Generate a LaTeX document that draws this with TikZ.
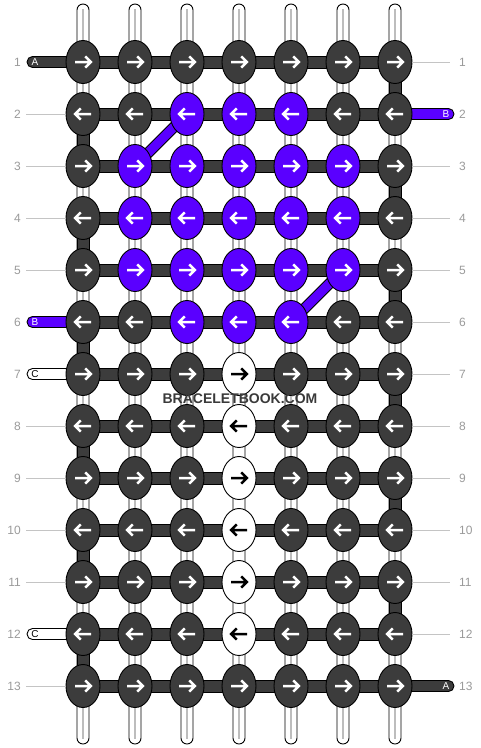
\documentclass[tikz,border=0pt]{standalone}
\usepackage{fontspec}
\setmainfont{Liberation Sans}
\usetikzlibrary{shapes.geometric}
\definecolor{knotdark}{HTML}{3C3C3C}
\definecolor{knotpurple}{HTML}{5A00FF}
\definecolor{lblgray}{HTML}{9A9A9A}
\definecolor{lblline}{HTML}{C4C4C4}
\definecolor{warpline}{HTML}{BDBDBD}
\definecolor{wmark}{HTML}{3A3A3A}
\tikzset{
  warp/.style={draw=black, line width=0.9pt, fill=white},
  segdark/.style={draw=black, line width=0.9pt, fill=knotdark},
  knot/.style={ellipse, draw=black, line width=0.9pt, minimum width=34pt, minimum height=43pt, inner sep=0pt},
  arr/.style={line width=2.5pt, miter limit=10},
  rownum/.style={text=lblgray, font=\fontsize{12}{12}\selectfont, inner sep=0pt},
  guide/.style={draw=lblline, line width=0.8pt},
  endlbl/.style={font=\fontsize{10}{10}\selectfont, inner sep=0pt},
}
\begin{document}
\begin{tikzpicture}[x=1pt,y=-1pt]
\useasboundingbox (0,0) rectangle (480,748);
% grid coordinates
\foreach \r in {1,...,13}{\foreach \c in {1,...,7}{
  \coordinate (p-\r-\c) at ({31+52*\c},{10+52*\r});
}}
% warp strands
\foreach \c in {1,...,7}{
  \draw[warp, rounded corners=6pt] ({31+52*\c-6},4) rectangle ({31+52*\c+6},744);
  \draw[warpline, line width=1.2pt] ({31+52*\c},9) -- ({31+52*\c},739);
}
% column 4 segments between white knots: plain white
\fill[white] (235,374) rectangle (243,634);
% edge turns (dark vertical segments)
\foreach \r in {2,4,6,8,10,12}{
  \pgfmathtruncatemacro\rn{\r+1}
  \draw[segdark] ([xshift=-6pt]p-\r-1) rectangle ([xshift=6pt]p-\rn-1);
}
\foreach \r in {1,3,5,7,9,11}{
  \pgfmathtruncatemacro\rn{\r+1}
  \draw[segdark] ([xshift=-6pt]p-\r-7) rectangle ([xshift=6pt]p-\rn-7);
}
% horizontal segments
\foreach \r in {1,...,13}{
  \draw[segdark] ([yshift=-6pt]p-\r-1) rectangle ([yshift=6pt]p-\r-7);
}
% end strands
\coordinate (eA1) at (27,62);
\coordinate (eB6) at (27,322);
\coordinate (eC7) at (27,374);
\coordinate (eC12) at (27,634);
\coordinate (eB2) at (454,114);
\coordinate (eA13) at (454,686);
\draw[draw=black, line width=0.9pt, fill=knotdark, rounded corners=5.5pt] ([yshift=-5.5pt]eA1) rectangle ([yshift=5.5pt,xshift=8pt]p-1-1);
\draw[draw=black, line width=0.9pt, fill=knotpurple, rounded corners=5.5pt] ([yshift=-5.5pt]eB6) rectangle ([yshift=5.5pt,xshift=8pt]p-6-1);
\draw[draw=black, line width=0.9pt, fill=white, rounded corners=5.5pt] ([yshift=-5.5pt]eC7) rectangle ([yshift=5.5pt,xshift=8pt]p-7-1);
\draw[draw=black, line width=0.9pt, fill=white, rounded corners=5.5pt] ([yshift=-5.5pt]eC12) rectangle ([yshift=5.5pt,xshift=8pt]p-12-1);
\draw[draw=black, line width=0.9pt, fill=knotpurple, rounded corners=5.5pt] ([yshift=-5.5pt,xshift=-8pt]p-2-7) rectangle ([yshift=5.5pt]eB2);
\draw[draw=black, line width=0.9pt, fill=knotdark, rounded corners=5.5pt] ([yshift=-5.5pt,xshift=-8pt]p-13-7) rectangle ([yshift=5.5pt]eA13);
\node[endlbl, text=white] (lA1) at (35,62) {A};
\node[endlbl, text=white] (lB6) at (35,322) {B};
\node[endlbl, text=black] (lC7) at (35,374) {C};
\node[endlbl, text=black] (lC12) at (35,634) {C};
\node[endlbl, text=white] (lB2) at (446,114) {B};
\node[endlbl, text=white] (lA13) at (446,686) {A};
% diagonal purple connectors
\draw[black, line width=11pt] (p-2-3) -- (p-3-2);
\draw[knotpurple, line width=9pt] (p-2-3) -- (p-3-2);
\draw[black, line width=11pt] (p-5-6) -- (p-6-5);
\draw[knotpurple, line width=9pt] (p-5-6) -- (p-6-5);
% knots and arrows
\foreach \r in {1,...,13}{\foreach \c in {1,...,7}{
  \pgfmathtruncatemacro\isp{((\r>2)&&(\r<6)&&(\c>1)&&(\c<7)) || (((\r==2)||(\r==6))&&(\c>2)&&(\c<6))}
  \pgfmathtruncatemacro\isw{(\c==4)&&(\r>6)&&(\r<13)}
  \pgfmathtruncatemacro\dir{mod(\r,2)==1 ? 1 : -1}
  \def\kc{knotdark}\def\ac{white}
  \ifnum\isp=1 \def\kc{knotpurple}\fi
  \ifnum\isw=1 \def\kc{white}\def\ac{black}\fi
  \node[knot, fill=\kc] (k-\r-\c) at (p-\r-\c) {};
  \draw[arr, draw=\ac, shift={(k-\r-\c.center)}, xscale=\dir] (-8,0) -- (7,0) (2.2,-5.6) -- (7.8,0) -- (2.2,5.6);
}}
% row numbers and guide lines
\foreach \r in {1,...,13}{
  \node[rownum, anchor=east] (nl-\r) at (21,{10+52*\r}) {\r};
  \node[rownum, anchor=west] (nr-\r) at (459,{10+52*\r}) {\r};
}
\foreach \r in {2,3,4,5,8,9,10,11,13}{
  \coordinate (gl-\r) at (26,{10+52*\r});
  \draw[guide] (gl-\r) -- (k-\r-1.west);
}
\foreach \r in {1,3,4,5,6,7,8,9,10,11,12}{
  \coordinate (gr-\r) at (450,{10+52*\r});
  \draw[guide] (k-\r-7.east) -- (gr-\r);
}
% watermark
\node[text=wmark, font=\bfseries\fontsize{14}{14}\selectfont, inner sep=0pt] (wm) at (240,399) {BRACELETBOOK.COM};
\end{tikzpicture}
\end{document}
